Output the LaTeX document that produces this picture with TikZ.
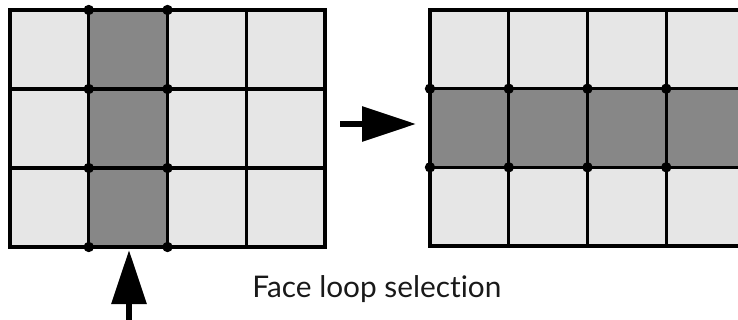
\documentclass[tikz,border=0pt]{standalone}
\usepackage{fontspec}
\setmainfont[Ligatures=NoCommon]{Lato}
\usetikzlibrary{arrows.meta}
\definecolor{facelight}{HTML}{E6E6E6}
\definecolor{facedark}{HTML}{878787}
\begin{document}
\begin{tikzpicture}[x=0.5pt,y=-0.5pt]
  \tikzstyle{edge}=[line width=1.6pt,line cap=rect]
  \tikzstyle{vert}=[circle,fill=black,minimum size=5.2pt,inner sep=0pt]
  \tikzstyle{bigarrow}=[line width=3pt,-{Triangle[length=27pt,width=17pt]}]
  \clip (0,0) rectangle (738,320);

  % left mesh, one column picked
  \fill[facelight] (10,10) rectangle (325,247);
  \fill[facedark] (88.75,10) rectangle (167.5,247);
  \foreach \x in {10,88.75,167.5,246.25,325} \draw[edge] (\x,10) -- (\x,247);
  \foreach \y in {10,89,168,247} \draw[edge] (10,\y) -- (325,\y);
  \foreach \y [count=\i] in {10,89,168,247} {
    \node[vert] (L-a\i) at (88.75,\y) {};
    \node[vert] (L-b\i) at (167.5,\y) {};
  }

  % right mesh, the whole loop
  \fill[facelight] (430,10) rectangle (745,246);
  \fill[facedark] (430,88.7) rectangle (745,167.3);
  \foreach \x in {430,508.75,587.5,666.25,745} \draw[edge] (\x,10) -- (\x,246);
  \foreach \y in {10,88.7,167.3,246} \draw[edge] (430,\y) -- (745,\y);
  \foreach \x [count=\i] in {430,508.75,587.5,666.25,745} {
    \node[vert] (R-a\i) at (\x,88.7) {};
    \node[vert] (R-b\i) at (\x,167.3) {};
  }

  \coordinate (M-tail) at (340,124);
  \coordinate (M-tip) at (416,124);
  \draw[bigarrow] (M-tail) -- (M-tip);

  \coordinate (B-tail) at (129,325);
  \coordinate (B-tip) at (129,250);
  \draw[bigarrow] (B-tail) -- (B-tip);

  \node[anchor=base west,inner sep=0pt,text=black!90,
        font=\fontsize{14.9}{18}\selectfont] (caption) at (252,297) {Face loop selection};
\end{tikzpicture}
\end{document}
